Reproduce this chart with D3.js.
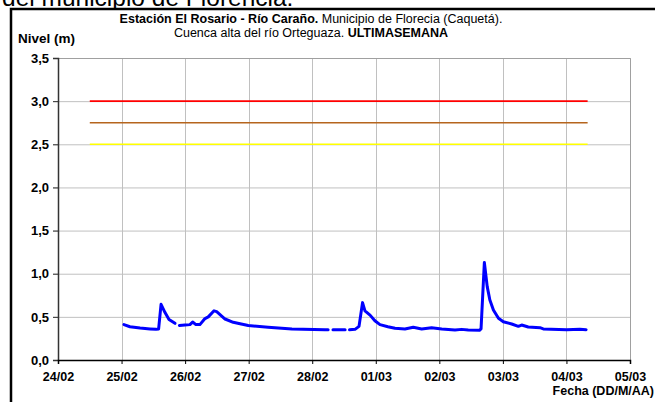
<!DOCTYPE html>
<html>
<head>
<meta charset="utf-8">
<script src="https://cdn.jsdelivr.net/npm/d3@7"></script>
<style>
  html, body { margin: 0; padding: 0; background: #fff; }
  svg { display: block; font-family: "Liberation Sans", Arial, sans-serif; }
</style>
</head>
<body>
<svg id="chart" width="655" height="402"></svg>
<script>
// ---- data ----
const times = [
  "25/02 00:55","25/02 03:10","25/02 07:00","25/02 10:45","25/02 13:00","25/02 14:00",
  "25/02 14:55","25/02 16:25","25/02 17:55","25/02 19:25","25/02 20:10","25/02 21:00",
  "25/02 21:50","25/02 23:55","26/02 01:50","26/02 02:50","26/02 04:05","26/02 05:35",
  "26/02 07:30","26/02 08:45","26/02 10:55","26/02 11:55","26/02 15:05","26/02 18:10",
  "26/02 20:45","26/02 23:50","27/02 07:20","27/02 16:20","28/02 04:50","28/02 06:00",
  "28/02 07:00","28/02 07:50","28/02 12:25","28/02 13:10","28/02 14:05","28/02 16:10",
  "28/02 17:40","28/02 19:00","28/02 19:55","28/02 21:50","28/02 23:40","01/03 01:35",
  "01/03 04:35","01/03 07:15","01/03 11:00","01/03 14:10","01/03 17:20","01/03 21:05",
  "02/03 00:55","02/03 05:55","02/03 08:25","02/03 10:55","02/03 15:10","02/03 15:45",
  "02/03 17:00","02/03 18:05","02/03 19:05","02/03 20:25","02/03 22:20","03/03 00:10",
  "03/03 03:20","03/03 05:50","03/03 07:05","03/03 09:35","03/03 14:00","03/03 15:15",
  "04/03 00:05","04/03 05:05","04/03 07:25"
];
const levels = [
  0.41, 0.385, 0.37, 0.36, 0.355, 0.36,
  0.645, 0.55, 0.47, 0.44, 0.425, null,
  0.40, 0.405, 0.41, 0.44, 0.41, 0.41,
  0.48, 0.50, 0.57, 0.56, 0.475, 0.437,
  0.42, 0.40, 0.38, 0.36, 0.35, 0.35,
  null, 0.35, 0.35, null, 0.35, 0.355,
  0.39, 0.665, 0.57, 0.52, 0.455, 0.41,
  0.386, 0.367, 0.36, 0.38, 0.36, 0.375,
  0.36, 0.348, 0.355, 0.348, 0.345, 0.36,
  1.13, 0.85, 0.695, 0.58, 0.483, 0.444,
  0.417, 0.39, 0.405, 0.382, 0.375, 0.36,
  0.352, 0.355, 0.352
];
const thresholdValues = [3.0, 2.75, 2.5];
const thresholdColors = ["#FF0000", "#B5651D", "#FFFF00"];
const thresholdStart = "24/02 12:00";
const thresholdEnd = "04/03 08:00";
const xDomain = ["24/02 00:00", "05/03 00:00"];
const yTicks = [0, 0.5, 1.0, 1.5, 2.0, 2.5, 3.0, 3.5];

const titleBold1 = "Estación El Rosario - Río Caraño.";
const titleReg1 = " Municipio de Florecia (Caquetá).";
const titleReg2 = "Cuenca alta del río Orteguaza. ";
const titleBold2 = "ULTIMASEMANA";
const yLabel = "Nivel (m)";
const xLabel = "Fecha (DD/M/AA)";
const aboveText = "del municipio de Florencia.";

// ---- drawing ----
const parse = d3.timeParse("%d/%m %H:%M");
const svg = d3.select("#chart");
const L = 58, R = 630, T = 58, B = 360;

const x = d3.scaleTime().domain(xDomain.map(parse)).range([L, R]);
const y = d3.scaleLinear().domain([0, 3.5]).range([B, T]);

svg.append("rect").attr("width", 655).attr("height", 402).attr("fill", "#fff");

// text above the frame (cut off)
svg.append("text").attr("x", 2).attr("y", 6)
  .attr("font-size", 24.5).attr("font-family", "Liberation Sans, Arial")
  .attr("fill", "#000").text(aboveText);

// outer frame
svg.append("rect").attr("x", 11).attr("y", 9).attr("width", 700).attr("height", 450)
  .attr("fill", "#fff").attr("stroke", "#000").attr("stroke-width", 2.5);

// gridlines
const xTicks = x.ticks(d3.timeDay.every(1));
svg.append("g").selectAll("line.h").data(yTicks.filter(d => d > 0)).join("line")
  .attr("x1", L - 5).attr("x2", R).attr("y1", d => y(d) + 0.5).attr("y2", d => y(d) + 0.5)
  .attr("stroke", "#C0C0C0").attr("stroke-width", 1);
svg.append("g").selectAll("line.v").data(xTicks.filter((d, i) => i > 0)).join("line")
  .attr("x1", d => Math.round(x(d)) + 0.5).attr("x2", d => Math.round(x(d)) + 0.5)
  .attr("y1", T).attr("y2", B)
  .attr("stroke", "#C0C0C0").attr("stroke-width", 1);

// plot frame top/right
svg.append("path")
  .attr("d", `M${L},${T + 0.5}H${R + 0.5}V${B}`)
  .attr("fill", "none").attr("stroke", "#A0A0A0").attr("stroke-width", 1);

// thresholds
svg.append("g").selectAll("line").data(thresholdValues).join("line")
  .attr("x1", x(parse(thresholdStart))).attr("x2", x(parse(thresholdEnd)))
  .attr("y1", d => y(d)).attr("y2", d => y(d))
  .attr("stroke", (d, i) => thresholdColors[i]).attr("stroke-width", 1.6);

// axes
const fmtY = d => d3.format(".1f")(d).replace(".", ",");
const yAxis = svg.append("g").attr("transform", `translate(${L},0)`)
  .call(d3.axisLeft(y).tickValues(yTicks).tickFormat(fmtY).tickSize(5).tickPadding(4));
yAxis.select(".domain").attr("stroke", "#333").attr("stroke-width", 1.5);
yAxis.selectAll(".tick line").attr("stroke", "#333");
yAxis.selectAll("text").attr("font-size", 13).attr("font-weight", "bold")
  .attr("font-family", "Liberation Sans, Arial").attr("fill", "#000");

const xAxis = svg.append("g").attr("transform", `translate(0,${B})`)
  .call(d3.axisBottom(x).ticks(d3.timeDay.every(1)).tickFormat(d3.timeFormat("%d/%m")).tickSize(4).tickPadding(8));
xAxis.select(".domain").attr("stroke", "#000").attr("stroke-width", 1.5);
xAxis.selectAll(".tick line").attr("stroke", "#000");
xAxis.selectAll("text").attr("font-size", 12.5).attr("font-weight", "bold")
  .attr("font-family", "Liberation Sans, Arial").attr("fill", "#000");

// series line
const data = times.map((t, i) => ({ t: parse(t), v: levels[i] }));
const line = d3.line().defined(d => d.v != null).x(d => x(d.t)).y(d => y(d.v));
svg.append("path").datum(data).attr("d", line)
  .attr("fill", "none").attr("stroke", "#0000FF").attr("stroke-width", 3)
  .attr("stroke-linejoin", "round").attr("stroke-linecap", "round");

// titles
const t1 = svg.append("text").attr("x", 311).attr("y", 23).attr("text-anchor", "middle")
  .attr("font-size", 12.5).attr("fill", "#000");
t1.append("tspan").attr("font-weight", "bold").text(titleBold1);
t1.append("tspan").text(titleReg1);
const t2 = svg.append("text").attr("x", 311).attr("y", 37).attr("text-anchor", "middle")
  .attr("font-size", 12.5).attr("fill", "#000");
t2.append("tspan").text(titleReg2);
t2.append("tspan").attr("font-weight", "bold").text(titleBold2);

svg.append("text").attr("x", 18).attr("y", 43).attr("font-size", 13.5)
  .attr("font-weight", "bold").attr("fill", "#000").text(yLabel);
svg.append("text").attr("x", 654).attr("y", 395).attr("text-anchor", "end")
  .attr("font-size", 12.5).attr("font-weight", "bold").attr("fill", "#000").text(xLabel);
</script>
</body>
</html>
